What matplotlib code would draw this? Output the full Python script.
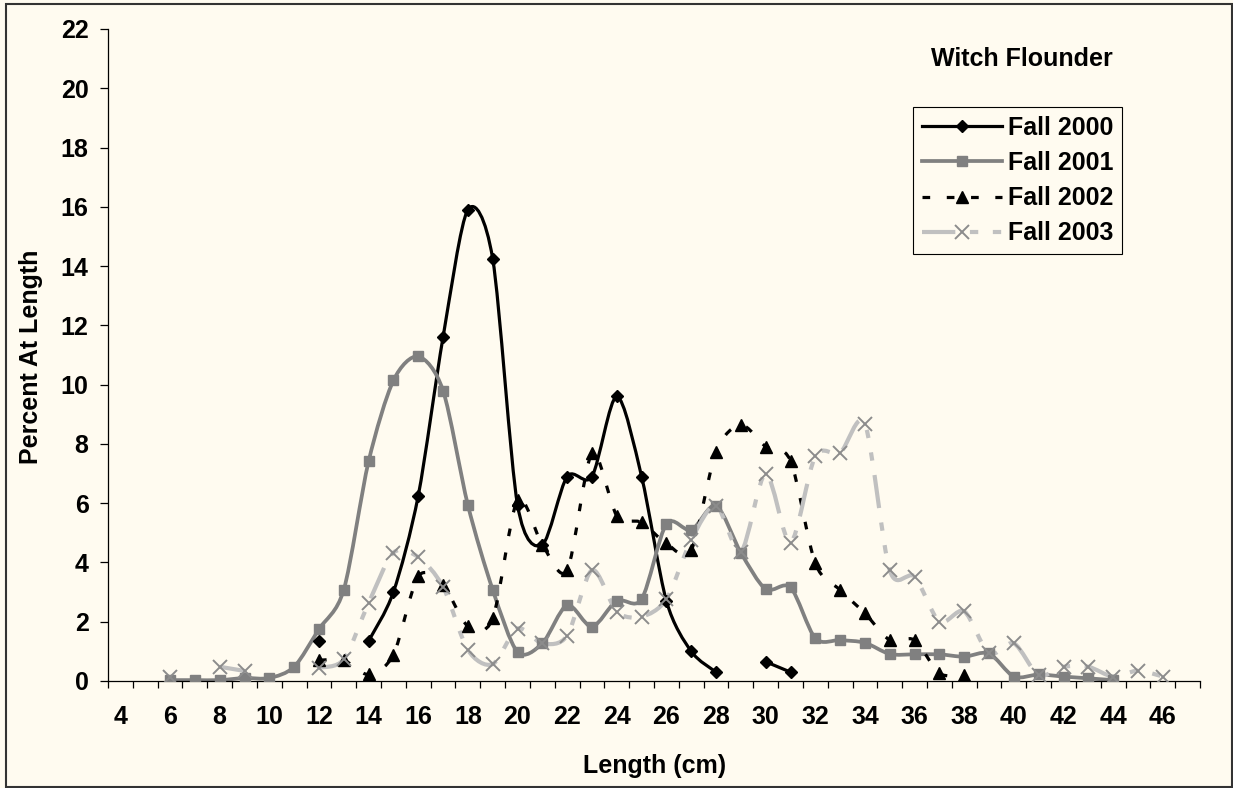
# witch flounder length frequency, fall surveys 2000-2003
import numpy as np
import matplotlib
matplotlib.use("Agg")
import matplotlib.pyplot as plt
from matplotlib.path import Path
from matplotlib.patches import PathPatch, Rectangle
from matplotlib.lines import Line2D

nan = np.nan

# category axis runs 4..47 cm, labelled every 2 cm
lengths = list(range(4, 48))
tick_labels = [str(v) for v in range(4, 47, 2)]

# percent at length (nan = no fish in that class)
len_2000 = list(range(12, 32))
fall_2000 = [1.35, nan, 1.35, 3.0, 6.25, 11.6, 15.9, 14.25, 5.95, 4.6,
             6.9, 6.9, 9.6, 6.9, 2.7, 1.0, 0.3, nan, 0.65, 0.3]

len_2001 = list(range(6, 45))
fall_2001 = [0.03, 0.03, 0.03, 0.1, 0.1, 0.48, 1.75, 3.08, 7.41, 10.14,
             10.95, 9.8, 5.94, 3.08, 0.98, 1.27, 2.56, 1.83, 2.71, 2.76,
             5.3, 5.09, 5.92, 4.33, 3.1, 3.16, 1.44, 1.38, 1.29, 0.91,
             0.9, 0.9, 0.82, 0.93, 0.15, 0.22, 0.15, 0.09, 0.03]

len_2002 = list(range(12, 39))
fall_2002 = [0.7, 0.7, 0.22, 0.89, 3.53, 3.24, 1.85, 2.11, 6.1, 4.6,
             3.74, 7.68, 5.58, 5.35, 4.64, 4.42, 7.74, 8.64, 7.91, 7.43,
             3.97, 3.07, 2.28, 1.38, 1.38, 0.26, 0.2]

len_2003 = list(range(6, 47))
fall_2003 = [0.15, nan, 0.48, 0.34, nan, nan, 0.45, 0.73, 2.63, 4.33,
             4.18, 3.18, 1.05, 0.57, 1.77, 1.27, 1.53, 3.74, 2.34, 2.17,
             2.76, 4.76, 5.92, 4.36, 7.0, 4.67, 7.59, 7.7, 8.67, 3.73,
             3.52, 2.0, 2.35, 0.93, 1.27, 0.2, 0.48, 0.48, 0.15, 0.35, 0.15]

BG = "#FFFBF0"
plt.rcParams["font.family"] = ["Liberation Sans", "DejaVu Sans"]
plt.rcParams["font.weight"] = "bold"


def smooth_path(xs, ys, k=1 / 7):
    # excel-like smoothed line: cubic bezier through the points
    pts = np.column_stack([xs, ys]).astype(float)
    n = len(pts)
    verts = [pts[0]]
    codes = [Path.MOVETO]
    for i in range(n - 1):
        p0 = pts[i - 1] if i > 0 else pts[i]
        p1, p2 = pts[i], pts[i + 1]
        p3 = pts[i + 2] if i + 2 < n else pts[i + 1]
        verts += [p1 + (p2 - p0) * k, p2 - (p3 - p1) * k, p2]
        codes += [Path.CURVE4] * 3
    return Path(verts, codes)


def runs(xs, ys):
    out, cur = [], []
    for x, y in zip(xs, ys):
        if np.isnan(y):
            if cur:
                out.append(cur)
            cur = []
        else:
            cur.append((x, y))
    if cur:
        out.append(cur)
    return out


series = [
    ("Fall 2000", len_2000, fall_2000,
     dict(color="black", lw=2.3, ls="-"),
     dict(marker="D", ms=6.3, mfc="black", mec="black")),
    ("Fall 2001", len_2001, fall_2001,
     dict(color="#808080", lw=2.7, ls="-"),
     dict(marker="s", ms=7.5, mfc="#808080", mec="#808080")),
    ("Fall 2002", len_2002, fall_2002,
     dict(color="black", lw=2.3, ls=(0, (2.4, 5.2))),
     dict(marker="^", ms=9, mfc="black", mec="black")),
    ("Fall 2003", len_2003, fall_2003,
     dict(color="#C0C0C0", lw=3.0, ls=(0, (8, 3.5, 2, 3.5, 2, 3.5))),
     dict(marker="x", ms=10, mew=1.4, mec="#8C8C8C")),
]

fig = plt.figure(figsize=(12.33, 7.88), dpi=100, facecolor=BG)
ax = fig.add_axes([108 / 1233, 1 - 681 / 788, 1092 / 1233, 652 / 788])
ax.set_facecolor(BG)

handles = []
for name, xs, ys, lst, mst in series:
    for run in runs(xs, ys):
        if len(run) > 1:
            rx, ry = zip(*run)
            ax.add_patch(PathPatch(smooth_path(rx, ry), fc="none",
                                   ec=lst["color"], lw=lst["lw"],
                                   ls=lst["ls"], capstyle="butt",
                                   joinstyle="round", zorder=2))
    ax.plot(xs, ys, ls="none", zorder=3, **mst)
    handles.append(Line2D([], [], color=lst["color"], lw=lst["lw"],
                          ls=lst["ls"], **mst))

ax.set_xlim(lengths[0] - 0.5, lengths[-1] + 0.5)
ax.set_ylim(0, 22)
ax.set_yticks(range(0, 23, 2))
ax.set_xticks(np.arange(lengths[0] - 0.5, lengths[-1] + 1, 1))
ax.set_xticklabels([])
ax.set_xticks(range(4, 47, 2), minor=True)
ax.set_xticklabels(tick_labels, minor=True)

for s in ["top", "right"]:
    ax.spines[s].set_visible(False)
for s in ["left", "bottom"]:
    ax.spines[s].set_linewidth(0.9)

ax.tick_params(axis="y", direction="out", length=6, width=0.9,
               labelsize=18, pad=8)
ax.tick_params(axis="x", which="major", direction="out", length=5,
               width=0.9)
ax.tick_params(axis="x", which="minor", length=0, labelsize=18, pad=17)

fig.text(31 / 1233, 1 - 357 / 788, "Percent At Length", rotation=90,
         ha="center", va="center", fontsize=18, fontweight="bold")
fig.text(655 / 1233, 1 - 773 / 788, "Length (cm)", ha="center",
         va="baseline", fontsize=18, fontweight="bold")
fig.text(1022 / 1233, 1 - 66.5 / 788, "Witch Flounder", ha="center",
         va="baseline", fontsize=18, fontweight="bold")

leg = ax.legend(handles, [s[0] for s in series], loc="upper left",
                bbox_to_anchor=(913 / 1233, 1 - 107 / 788),
                bbox_transform=fig.transFigure, borderaxespad=0,
                fontsize=18, handlelength=3.2, handletextpad=0.25,
                labelspacing=0.45, borderpad=0.35, numpoints=1,
                fancybox=False, framealpha=1, facecolor=BG,
                edgecolor="black")
leg.get_frame().set_linewidth(0.8)

fig.patches.append(Rectangle((6 / 1233, 1 / 788), 1226 / 1233, 783 / 788,
                             transform=fig.transFigure, fill=False,
                             ec="#333333", lw=1.5))

fig.savefig("out.png", dpi=100, facecolor=BG)
